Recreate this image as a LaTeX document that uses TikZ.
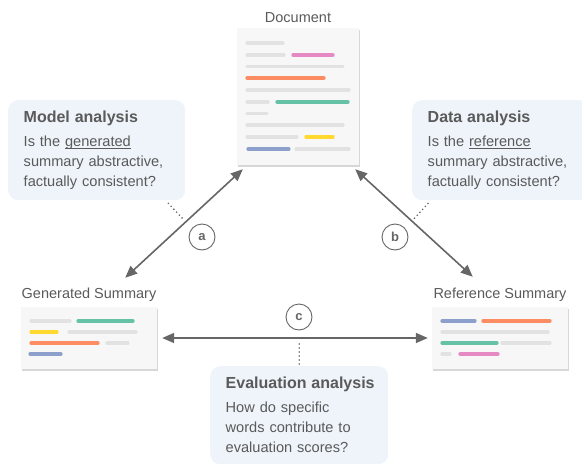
\documentclass[tikz,border=0pt]{standalone}
\usepackage{fontspec}
\setmainfont{Liberation Sans}
\usetikzlibrary{positioning,calc,arrows.meta,shadows}
\definecolor{txtgray}{HTML}{5A5A5A}
\definecolor{linkgray}{HTML}{666666}
\definecolor{cardbg}{HTML}{F7F7F7}
\definecolor{boxblue}{HTML}{EEF4FA}
\definecolor{bargray}{HTML}{E2E2E2}
\definecolor{barpink}{HTML}{E78AC3}
\definecolor{barorange}{HTML}{FC8D62}
\definecolor{bargreen}{HTML}{66C2A5}
\definecolor{baryellow}{HTML}{FFD92F}
\definecolor{barblue}{HTML}{8DA0CB}
\newcommand{\undl}[1]{\leavevmode\setbox0\hbox{#1}\rlap{\rule[-2.2pt]{\wd0}{0.7pt}}\box0}
\tikzstyle{card} = [rectangle, fill=cardbg, drop shadow={shadow xshift=0.6pt, shadow yshift=-1.6pt, opacity=0.35, fill=black!45}]
\tikzstyle{lbl} = [inner sep=0pt, text=txtgray, text depth=0pt, font=\fontsize{14.5}{16}\selectfont]
\tikzstyle{infobox} = [rectangle, rounded corners=10pt, fill=boxblue, text=txtgray, align=left, anchor=north west, inner xsep=15.5pt, text width=146pt, font=\fontsize{14.6}{20}\selectfont]
\tikzstyle{link} = [line width=1.6pt, draw=linkgray, {Triangle[length=12pt,width=10pt]}-{Triangle[length=12pt,width=10pt]}]
\tikzstyle{tag} = [circle, draw=linkgray, line width=0.9pt, fill=white, minimum size=26pt, inner sep=0pt, text=linkgray, font=\fontsize{13}{13}\bfseries\selectfont]
\tikzstyle{hint} = [line width=1.8pt, draw=linkgray, dash pattern=on 0pt off 4pt, line cap=round]
\tikzstyle{bar} = [line width=3.2pt, line cap=round]
\newcommand{\boxtitle}[1]{\mbox{\fontsize{16}{20}\bfseries\selectfont #1}\\[4pt]}

\begin{document}
\begin{tikzpicture}[x=1pt, y=-1pt]
\useasboundingbox (0,0) rectangle (582,464);

% cards
\node (doc) [card, minimum width=122pt, minimum height=137pt] at (298,96.5) {};
\node (gen) [card, minimum width=136pt, minimum height=62pt] at (89,338) {};
\node (ref) [card, minimum width=136pt, minimum height=62pt] at (500,338) {};
\node (doclbl) [lbl, above=5.5pt of doc] {Document};
\node (genlbl) [lbl, above=8.5pt of gen] {Generated Summary};
\node (reflbl) [lbl, above=8.5pt of ref] {Reference Summary};

% text lines on the cards
\foreach \xa/\xb/\yy/\cc in {
  247/283/43/bargray, 247/284/55/bargray, 293/333/55/barpink, 247/343/66.5/bargray,
  247/324/78/barorange, 247/349/90/bargray, 247/268/102/bargray, 277/348/102/bargreen,
  247/267/113.5/bargray, 247/343/125/bargray, 247/297/137/bargray, 306/333/137/baryellow,
  248/289/149/barblue, 296/349/149/bargray,
  31/70/321/bargray, 78/133/321/bargreen, 31/57/332/baryellow, 69/136/332/bargray,
  31/98/343/barorange, 107/128/343/bargray, 30/61/354/barblue,
  442/475/321/barblue, 483/550/321/barorange, 442/548/332/bargray, 442/497/343/bargreen,
  502/550/343/bargray, 442/450/354/bargray, 460/498/354/barpink}
  \draw[bar, \cc] (\xa,\yy) -- (\xb,\yy);

% analysis boxes
\node (model) [infobox, minimum height=100pt] at (8,100)
  {\boxtitle{Model analysis}Is the \undl{generated}\\summary abstractive,\\factually consistent?};
\node (data) [infobox, minimum height=100pt] at (412,100)
  {\boxtitle{Data analysis}Is the \undl{reference}\\summary abstractive,\\factually consistent?};
\node (eval) [infobox, minimum height=98pt, text width=147pt] at (210,366)
  {\boxtitle{Evaluation analysis}How do specific\\words contribute to\\evaluation scores?};

% arrows
\coordinate (atop) at ($(doc.south west)+(6,4)$);
\coordinate (abot) at ($(gen.north east)+(-32,-29)$);
\coordinate (btop) at ($(doc.south east)+(-4,4)$);
\coordinate (bbot) at ($(ref.north west)+(41,-30)$);
\draw [link] (atop) -- (abot);
\draw [link] (btop) -- (bbot);
\draw [link, shorten <=5pt, shorten >=4pt] (gen) -- (ref);

% labels a, b, c
\node (taga) [tag] at (202,237) {a};
\node (tagb) [tag] at (395,237) {b};
\node (tagc) [tag] at (299,317) {c};
\coordinate (ahint) at (184,220);
\coordinate (bhint) at (413,220);
\draw [hint] ($(model.south east)+(-17,3)$) -- (ahint);
\draw [hint] ($(data.south west)+(16,3)$) -- (bhint);
\draw [hint] ($(eval.north)+(0,-2)$) -- ++(0,-22);
\end{tikzpicture}
\end{document}
